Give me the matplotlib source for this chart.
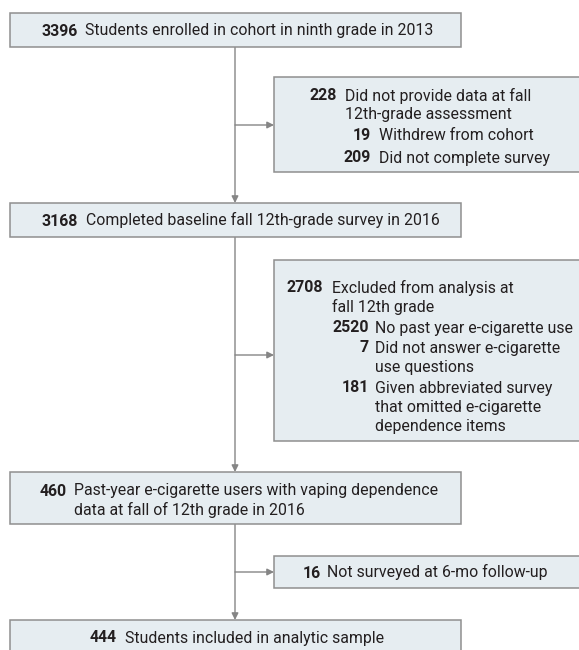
#import required libraries
import matplotlib
matplotlib.use("Agg")
import matplotlib.pyplot as plt
from matplotlib.patches import Rectangle

#Counts and labels for the main flow
main_counts = ["3396", "3168", "460", "444"]
main_labels = [
    ["Students enrolled in cohort in ninth grade in 2013"],
    ["Completed baseline fall 12th-grade survey in 2016"],
    ["Past-year e-cigarette users with vaping dependence", "data at fall of 12th grade in 2016"],
    ["Students included in analytic sample"],
]

#Counts and labels for the exclusion boxes (level 0 = header, level 1 = sub item)
excl_1 = [("228", ["Did not provide data at fall", "12th-grade assessment"], 0),
          ("19", ["Withdrew from cohort"], 1),
          ("209", ["Did not complete survey"], 1)]
excl_2 = [("2708", ["Excluded from analysis at", "fall 12th grade"], 0),
          ("2520", ["No past year e-cigarette use"], 1),
          ("7", ["Did not answer e-cigarette", "use questions"], 1),
          ("181", ["Given abbreviated survey", "that omitted e-cigarette", "dependence items"], 1)]
excl_3 = [("16", ["Not surveyed at 6-mo follow-up"], 0)]

FILL = "#e6edf1"
EDGE = "#8f8f8f"
LINE = "#858585"
TXT = "#231f20"
FONT = ["Roboto", "DejaVu Sans"]
FS = 11.4

fig = plt.figure(figsize=(5.79, 6.5), dpi=100)
ax = fig.add_axes([0, 0, 1, 1])
ax.set_xlim(0, 579)
ax.set_ylim(650, 0)
ax.axis("off")


def box(x0, y0, x1, y1):
    ax.add_patch(Rectangle((x0, y0), x1 - x0, y1 - y0, facecolor=FILL,
                           edgecolor=EDGE, linewidth=1.1, zorder=2))


def entry(xnum, xtxt, y, num, lines, dy=19.5):
    # y is the visual middle of the first line; put the baseline under it
    y = y + 5.5
    ax.text(xnum, y, num, ha="right", va="baseline", fontsize=FS,
            fontweight="bold", color=TXT, family=FONT, zorder=3)
    for i, ln in enumerate(lines):
        ax.text(xtxt, y + i * dy, ln, ha="left", va="baseline", fontsize=FS,
                color=TXT, family=FONT, zorder=3)


def arrow(x0, y0, x1, y1):
    ax.annotate("", xy=(x1, y1), xytext=(x0, y0),
                arrowprops=dict(arrowstyle="-|>", color=LINE, lw=1.0,
                                mutation_scale=10, shrinkA=0, shrinkB=0), zorder=1)


#Main boxes
main_boxes = [(10, 13, 461, 47), (10, 203, 461, 237), (10, 472, 461, 524), (10, 620, 461, 668)]
num_right = [78, 78, 67, 117]
txt_left = [85, 86, 74, 125]
txt_y = [30, 220, 490, 637]
for (b, nr, tl, ty, c, lab) in zip(main_boxes, num_right, txt_left, txt_y, main_counts, main_labels):
    box(*b)
    entry(nr, tl, ty, c, lab)

#Exclusion boxes
box(274, 77, 590, 172)
box(274, 260, 590, 441)
box(274, 556, 590, 588)

ys1 = [95, 135, 157]
xn1 = [337, 371, 371]
for (c, lab, lev), y, xn in zip(excl_1, ys1, xn1):
    entry(xn, xn + 8, y, c, lab, dy=18.5)

ys2 = [287, 327, 347, 387]
xn2 = [323, 369, 369, 369]
for (c, lab, lev), y, xn in zip(excl_2, ys2, xn2):
    entry(xn, xn + 6 if lev else 332, y, c, lab, dy=19.5)

for (c, lab, lev) in excl_3:
    entry(321, 327, 572, c, lab)

#Connectors
x_mid = 235
arrow(x_mid, 47, x_mid, 203)
arrow(x_mid, 125, 274, 125)
arrow(x_mid, 237, x_mid, 472)
arrow(x_mid, 355, 274, 355)
arrow(x_mid, 524, x_mid, 620)
arrow(x_mid, 572, 274, 572)

fig.savefig("out.png", dpi=100, facecolor="white")
